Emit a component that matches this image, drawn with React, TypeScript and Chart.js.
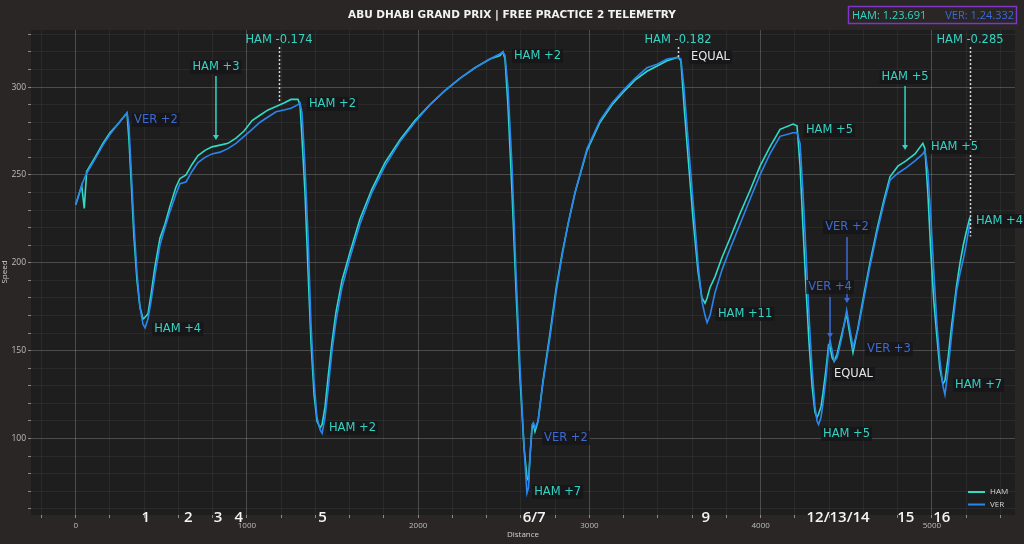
import React, { useEffect, useRef } from "react";
import { Chart, registerables } from "chart.js";
Chart.register(...registerables);

// ---- telemetry (distance in m, speed in km/h) ----
const distance = [
  0, 35, 50, 64, 113, 159, 200, 247, 288, 300,
  311, 323, 340, 358, 375, 393, 405, 422, 440, 463,
  492, 521, 550, 585, 609, 644, 679, 714, 755, 796,
  843, 889, 936, 983, 1030, 1076, 1123, 1170, 1216, 1257,
  1298, 1310, 1322, 1339, 1357, 1374, 1392, 1409, 1427, 1439,
  1456, 1474, 1497, 1520, 1555, 1602, 1660, 1730, 1806, 1894,
  1981, 2069, 2156, 2244, 2332, 2419, 2478, 2495, 2507, 2524,
  2548, 2571, 2594, 2618, 2635, 2644, 2653, 2665, 2673, 2682,
  2700, 2729, 2770, 2805, 2840, 2875, 2916, 2986, 3062, 3132,
  3196, 3266, 3336, 3395, 3453, 3517, 3534, 3552, 3576, 3605,
  3634, 3657, 3675, 3687, 3704, 3733, 3774, 3821, 3879, 3937,
  3996, 4054, 4113, 4189, 4212, 4230, 4247, 4265, 4282, 4300,
  4317, 4329, 4338, 4352, 4364, 4382, 4396, 4405, 4417, 4429,
  4446, 4475, 4502, 4516, 4539, 4568, 4603, 4638, 4679, 4720,
  4755, 4801, 4848, 4901, 4947, 4959, 4976, 4994, 5011, 5029,
  5046, 5064, 5076, 5093, 5116, 5144, 5164, 5183, 5199, 5222,
];
const hamSpeed = [
  233, 244, 231, 252, 260, 268, 274, 279, 284, 285,
  270, 248, 215, 190, 175, 168, 169, 171, 182, 198,
  214, 222, 232, 243, 248, 250, 256, 261, 264, 266,
  267, 268, 271, 275, 281, 284, 287, 289, 291, 293,
  293, 290, 270, 240, 195, 155, 125, 110, 106, 108,
  118, 135, 155, 172, 190, 206, 225, 242, 257, 270,
  281, 290, 298, 305, 311, 316, 318, 320, 316, 290,
  240, 185, 135, 95, 78, 76, 90, 106, 108, 104,
  110, 133, 160, 185, 205, 222, 240, 264, 280, 290,
  297, 304, 309, 312, 315, 317, 315, 290, 260, 225,
  195, 180, 177, 180, 186, 192, 203, 214, 228, 241,
  255, 266, 276, 279, 278, 255, 220, 185, 155, 130,
  115, 112, 114, 118, 126, 140, 153, 152, 146, 144,
  148, 160, 171, 162, 149, 163, 182, 200, 219, 236,
  249, 255, 258, 262, 268, 265, 240, 205, 178, 158,
  140, 131, 133, 145, 165, 187, 200, 210, 217, 226,
];
const verSpeed = [
  233, 244, 248, 251, 259, 267, 273, 279, 284, 285.5,
  278, 255, 222, 194, 175, 165, 163, 168, 178, 193,
  210, 220, 229, 239, 245, 246, 252, 257, 260, 262,
  263, 265, 268, 272, 276, 280, 283, 286, 287, 288,
  290, 291, 285, 255, 215, 165, 132, 112, 105, 103,
  112, 128, 150, 167, 186, 203, 222, 240, 255, 269,
  280, 290, 298, 305, 311, 316, 319, 320, 318, 300,
  255, 195, 142, 95, 69, 72, 90, 108, 109, 106,
  110, 132, 158, 183, 204, 222, 240, 265, 281, 291,
  298, 305, 311, 313, 316, 317, 316, 300, 270, 235,
  200, 178, 170, 166, 170, 183, 196, 208, 222, 236,
  250, 262, 272, 274, 274, 268, 240, 205, 170, 140,
  118, 110, 108, 112, 120, 135, 150, 156, 150, 144,
  146, 158, 173, 165, 152, 162, 180, 198, 217, 234,
  247, 251, 254, 258, 262, 264, 252, 225, 195, 165,
  145, 130, 125, 138, 160, 184, 194, 202, 210, 223,
];

// ---- corners ----
const cornerNames = ["1", "2", "3", "4", "5", "6/7", "9", "12/13/14", "15", "16"];
const cornerDistance = [410, 657, 831, 953, 1442, 2677, 3679, 4452, 4847, 5057];

// ---- speed difference labels ----
const labelText = [
  "VER +2", "HAM +4", "HAM +3", "HAM +2", "HAM +2", "HAM +2", "VER +2", "HAM +7",
  "EQUAL", "HAM +11", "HAM +5", "HAM +5", "HAM +5", "HAM +4", "VER +2", "VER +4",
  "VER +3", "EQUAL", "HAM +5", "HAM +7",
];
const labelDistance = [
  341, 458, 819, 1362, 1479, 2559, 2735, 2677,
  3593, 3750, 4264, 4843, 4995, 5257, 4504, 4405,
  4621, 4428, 4364, 5135,
];
const labelSpeed = [
  281.3, 162.3, 311.4, 290.4, 106.0, 317.7, 100.3, 69.6,
  317.1, 170.9, 275.6, 305.8, 265.9, 223.8, 220.4, 186.2,
  150.9, 136.7, 102.6, 130.5,
];
const labelCentered = [
  false, false, true, false, false, false, false, false,
  false, false, false, true, false, false, true, true,
  false, false, false, false,
];

// ---- arrows (distance, from speed, to speed) ----
const arrowDistance = [819, 4843, 4504, 4405];
const arrowFrom = [306.3, 300.6, 214.7, 180.5];
const arrowTo = [269.9, 264.2, 177.1, 157.2];
const arrowDriver = ["HAM", "HAM", "VER", "VER"];

// ---- sector time deltas ----
const deltaText = ["HAM -0.174", "HAM -0.182", "HAM -0.285"];
const deltaDistance = [1187, 3517, 5222];
const deltaBottomSpeed = [291, 317, 215];

const lapTimes = ["HAM: 1.23.691", "VER: 1.24.332"];

const BG = "#2a2626";
const PLOT_BG = "#1e1e1e";
const HAM_LINE = "#2fdcc8";
const VER_LINE = "#2a86ee";
const HAM_TEXT = "#35d3c2";
const VER_TEXT = "#3d6ad4";
const LABEL_FONT = '11.5px "DejaVu Sans"';

function colorFor(text: string) {
  if (text.startsWith("HAM")) return HAM_TEXT;
  if (text.startsWith("VER")) return VER_TEXT;
  return "#e6e6e6";
}

const decorPlugin = {
  id: "decor",
  beforeDraw(chart: any) {
    const { ctx, chartArea: a } = chart;
    ctx.save();
    ctx.fillStyle = BG;
    ctx.fillRect(0, 0, chart.width, chart.height);
    ctx.fillStyle = PLOT_BG;
    ctx.fillRect(a.left, a.top, a.right - a.left, a.bottom - a.top);
    ctx.restore();
  },
  afterDatasetsDraw(chart: any) {
    const { ctx } = chart;
    const xs = chart.scales.x;
    const ys = chart.scales.y;
    ctx.save();
    // dotted delta lines
    ctx.setLineDash([2, 2]);
    ctx.lineWidth = 1.5;
    ctx.strokeStyle = "#d8d8d8";
    deltaDistance.forEach((d, i) => {
      const x = Math.round(xs.getPixelForValue(d)) + 0.5;
      ctx.beginPath();
      ctx.moveTo(x, ys.getPixelForValue(322.8));
      ctx.lineTo(x, ys.getPixelForValue(deltaBottomSpeed[i]));
      ctx.stroke();
    });
    ctx.setLineDash([]);
    // arrows
    arrowDistance.forEach((d, i) => {
      const c = arrowDriver[i] === "HAM" ? HAM_TEXT : VER_TEXT;
      const x = xs.getPixelForValue(d);
      const y1 = ys.getPixelForValue(arrowFrom[i]);
      const y2 = ys.getPixelForValue(arrowTo[i]);
      ctx.strokeStyle = c;
      ctx.fillStyle = c;
      ctx.lineWidth = 1.5;
      ctx.beginPath();
      ctx.moveTo(x, y1);
      ctx.lineTo(x, y2 - 4);
      ctx.stroke();
      ctx.beginPath();
      ctx.moveTo(x - 3, y2 - 5);
      ctx.lineTo(x + 3, y2 - 5);
      ctx.lineTo(x, y2);
      ctx.closePath();
      ctx.fill();
    });
    // labels
    ctx.font = LABEL_FONT;
    ctx.textBaseline = "middle";
    labelText.forEach((t, i) => {
      const w = ctx.measureText(t).width;
      let x = xs.getPixelForValue(labelDistance[i]);
      const y = ys.getPixelForValue(labelSpeed[i]);
      if (labelCentered[i]) x -= w / 2;
      ctx.fillStyle = "rgba(22,22,26,0.85)";
      ctx.fillRect(x - 2, y - 7, w + 4, 14);
      ctx.fillStyle = colorFor(t);
      ctx.textAlign = "left";
      ctx.fillText(t, x, y);
    });
    // delta labels
    deltaText.forEach((t, i) => {
      const x = xs.getPixelForValue(deltaDistance[i]);
      const y = ys.getPixelForValue(326.8);
      ctx.fillStyle = HAM_TEXT;
      ctx.textAlign = "center";
      ctx.fillText(t, x, y);
    });
    ctx.restore();
  },
  afterDraw(chart: any) {
    const { ctx, chartArea: a } = chart;
    const xs = chart.scales.x;
    ctx.save();
    // title
    ctx.fillStyle = "#f2f2f2";
    ctx.font = 'bold 10.5px "DejaVu Sans"';
    ctx.textAlign = "center";
    ctx.textBaseline = "middle";
    ctx.fillText("ABU DHABI GRAND PRIX | FREE PRACTICE 2 TELEMETRY", 512, 15);
    // lap time box
    ctx.strokeStyle = "#7e35c8";
    ctx.lineWidth = 1.5;
    ctx.strokeRect(848.5, 6.5, 168, 17);
    ctx.font = '11px "Open Sans"';
    ctx.textAlign = "left";
    ctx.fillStyle = HAM_TEXT;
    ctx.fillText(lapTimes[0], 852, 15.5);
    ctx.fillStyle = VER_TEXT;
    ctx.textAlign = "right";
    ctx.fillText(lapTimes[1], 1014, 15.5);
    // corner numbers
    ctx.fillStyle = "#f4f4f4";
    ctx.font = '600 15px "Open Sans"';
    ctx.textAlign = "center";
    cornerNames.forEach((n, i) => {
      ctx.fillText(n, xs.getPixelForValue(cornerDistance[i]), a.bottom + 3);
    });
    // axis titles
    ctx.fillStyle = "#cfcfcf";
    ctx.font = '8px "Open Sans"';
    ctx.fillText("Distance", (a.left + a.right) / 2, 535);
    ctx.save();
    ctx.translate(5, 272);
    ctx.rotate(-Math.PI / 2);
    ctx.fillText("Speed", 0, 0);
    ctx.restore();
    // legend
    const items = [["HAM", HAM_LINE], ["VER", VER_LINE]];
    items.forEach(([name, c], i) => {
      const y = 492 + i * 12.5;
      ctx.strokeStyle = c;
      ctx.lineWidth = 2;
      ctx.beginPath();
      ctx.moveTo(968, y);
      ctx.lineTo(985, y);
      ctx.stroke();
      ctx.fillStyle = "#d6d6d6";
      ctx.textAlign = "left";
      ctx.font = '8px "Open Sans"';
      ctx.fillText(name, 990, y);
    });
    ctx.restore();
  },
};

export default function App() {
  const ref = useRef<HTMLCanvasElement>(null);
  useEffect(() => {
    document.body.style.margin = "0";
    document.body.style.background = BG;
    const gridColor = (major: number) => (c: any) => {
      const v = c.tick ? Math.round(c.tick.value) : 1;
      return v % major === 0 ? "rgba(255,255,255,0.2)" : "rgba(255,255,255,0.055)";
    };
    const chart = new Chart(ref.current as HTMLCanvasElement, {
      type: "line",
      data: {
        datasets: [
          {
            label: "VER",
            data: distance.map((d, i) => ({ x: d, y: verSpeed[i] })),
            borderColor: VER_LINE,
            borderWidth: 1.6,
            pointRadius: 0,
            tension: 0,
            order: 0,
          },
          {
            label: "HAM",
            data: distance.map((d, i) => ({ x: d, y: hamSpeed[i] })),
            borderColor: HAM_LINE,
            borderWidth: 1.6,
            pointRadius: 0,
            tension: 0,
            order: 1,
          },
        ],
      },
      options: {
        responsive: false,
        animation: false,
        layout: { padding: { top: 30, right: 9, left: 0, bottom: 0 } },
        plugins: { legend: { display: false }, tooltip: { enabled: false } },
        scales: {
          x: {
            type: "linear",
            min: -261,
            max: 5485,
            afterBuildTicks: (s: any) => {
              s.ticks = s.ticks.filter((t: any) => Math.abs(t.value % 200) < 1e-6);
            },
            afterFit: (s: any) => {
              s.height = 29;
            },
            ticks: {
              stepSize: 200,
              includeBounds: false,
              autoSkip: false,
              maxRotation: 0,
              color: "#bdbdbd",
              font: { size: 8, family: "Open Sans" },
              padding: 3,
              callback: (v: any) => (Math.round(v) % 1000 === 0 ? String(v) : ""),
            },
            grid: { color: gridColor(1000), tickLength: 3, tickColor: "#8a8a8a", lineWidth: 1 },
            border: { display: false },
          },
          y: {
            type: "linear",
            min: 56.5,
            max: 332.5,
            afterBuildTicks: (s: any) => {
              s.ticks = s.ticks.filter((t: any) => Math.abs(t.value % 10) < 1e-6);
            },
            afterFit: (s: any) => {
              s.width = 31;
            },
            ticks: {
              stepSize: 10,
              includeBounds: false,
              autoSkip: false,
              color: "#bdbdbd",
              font: { size: 8.5, family: "Open Sans" },
              padding: 2,
              callback: (v: any) => (Math.round(v) % 50 === 0 ? String(v) : ""),
            },
            grid: { color: gridColor(50), tickLength: 3, tickColor: "#8a8a8a", lineWidth: 1 },
            border: { display: false },
          },
        },
      },
      plugins: [decorPlugin],
    } as any);
    return () => chart.destroy();
  }, []);
  return <canvas ref={ref} width={1024} height={544} style={{ display: "block" }} />;
}
